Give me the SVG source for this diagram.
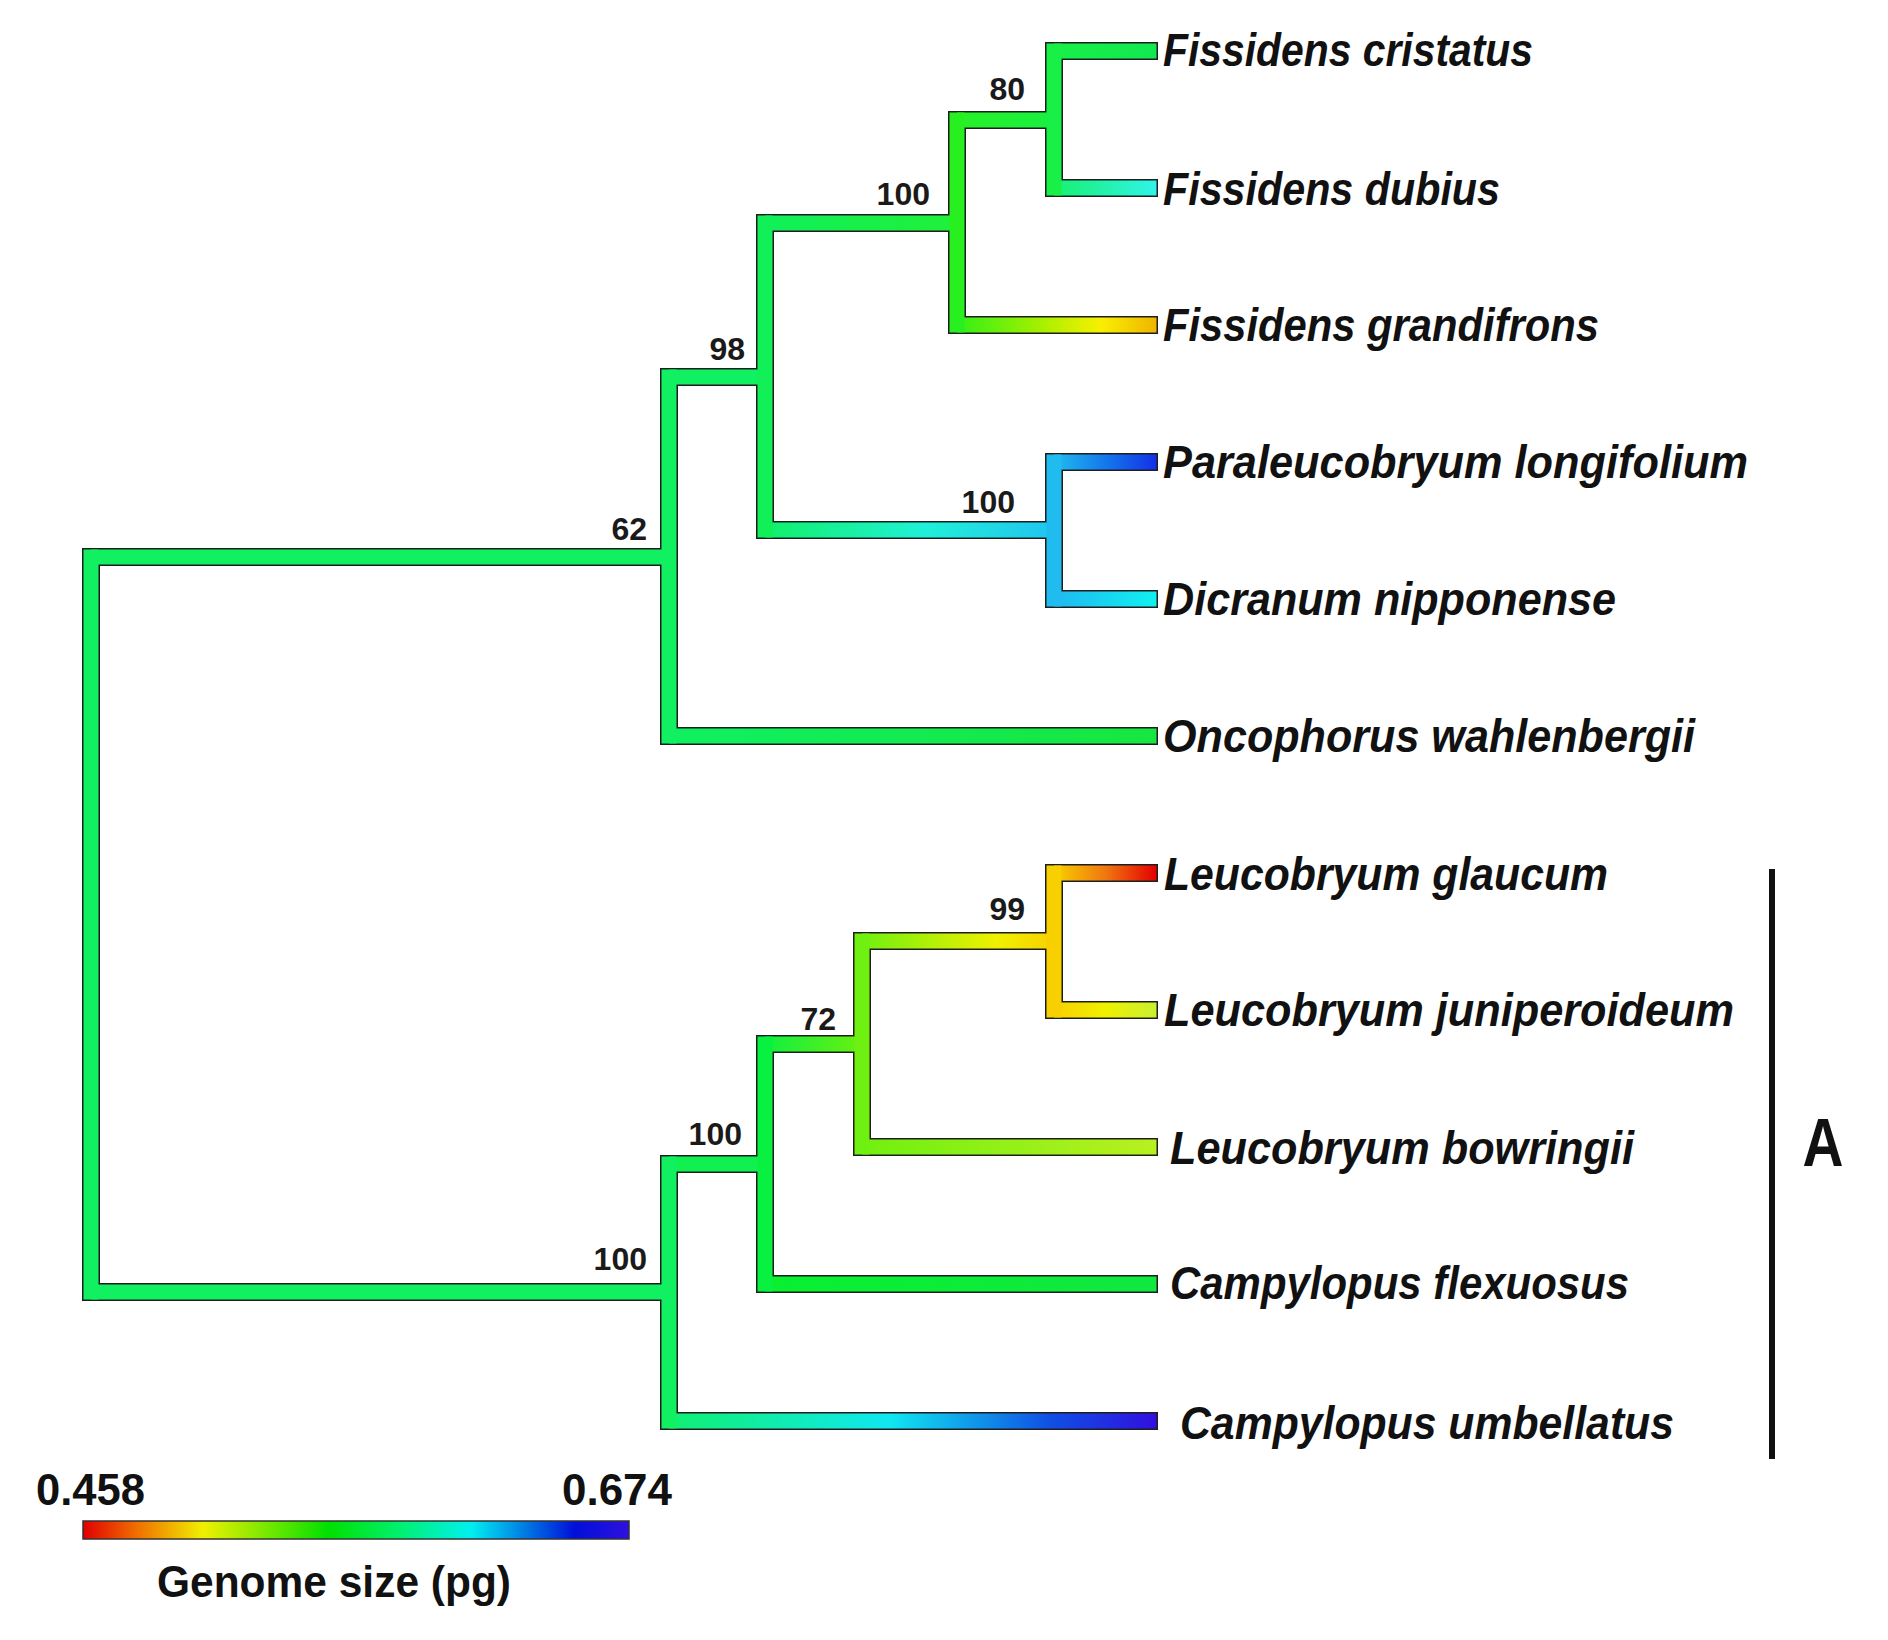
<svg xmlns="http://www.w3.org/2000/svg" width="1888" height="1640" viewBox="0 0 1888 1640">
<style>
.ol{fill:#1e1e1e}
.sp{font-family:"Liberation Sans",Arial,sans-serif;font-style:italic;font-weight:bold;font-size:46px;fill:#111}
.bs{font-family:"Liberation Sans",Arial,sans-serif;font-weight:bold;font-size:32px;fill:#1a1a1a;text-anchor:end}
.lg{font-family:"Liberation Sans",Arial,sans-serif;font-weight:bold;font-size:45px;fill:#111}
</style>
<defs>
<linearGradient id="gOnc"><stop offset="0" stop-color="#10f060"/><stop offset="1" stop-color="#16e640"/></linearGradient>
<linearGradient id="gA"><stop offset="0" stop-color="#10f05a"/><stop offset="1" stop-color="#20f038"/></linearGradient>
<linearGradient id="gB"><stop offset="0" stop-color="#28f028"/><stop offset="1" stop-color="#18f040"/></linearGradient>
<linearGradient id="gCri"><stop offset="0" stop-color="#18f048"/><stop offset="1" stop-color="#10e850"/></linearGradient>
<linearGradient id="gDub"><stop offset="0" stop-color="#18f070"/><stop offset="1" stop-color="#30f4e8"/></linearGradient>
<linearGradient id="gGra"><stop offset="0" stop-color="#30f018"/><stop offset="0.4" stop-color="#a0f000"/><stop offset="0.72" stop-color="#f8f000"/><stop offset="1" stop-color="#f0b400"/></linearGradient>
<linearGradient id="gC"><stop offset="0" stop-color="#10f068"/><stop offset="0.55" stop-color="#20f0d8"/><stop offset="1" stop-color="#20c4f0"/></linearGradient>
<linearGradient id="gPar"><stop offset="0" stop-color="#20bcf0"/><stop offset="0.5" stop-color="#1478ec"/><stop offset="1" stop-color="#1430e8"/></linearGradient>
<linearGradient id="gDic"><stop offset="0" stop-color="#20b8f0"/><stop offset="1" stop-color="#10f0f0"/></linearGradient>
<linearGradient id="gUmb"><stop offset="0" stop-color="#10f070"/><stop offset="0.45" stop-color="#10e8f0"/><stop offset="0.78" stop-color="#1050e4"/><stop offset="1" stop-color="#3010e0"/></linearGradient>
<linearGradient id="gFle"><stop offset="0" stop-color="#08f030"/><stop offset="1" stop-color="#10e840"/></linearGradient>
<linearGradient id="gD"><stop offset="0" stop-color="#10f040"/><stop offset="1" stop-color="#68f010"/></linearGradient>
<linearGradient id="gBow"><stop offset="0" stop-color="#70f010"/><stop offset="1" stop-color="#b8f020"/></linearGradient>
<linearGradient id="gE"><stop offset="0" stop-color="#70f010"/><stop offset="0.7" stop-color="#f0f000"/><stop offset="1" stop-color="#f8d000"/></linearGradient>
<linearGradient id="gGla"><stop offset="0" stop-color="#f8d000"/><stop offset="0.5" stop-color="#f07810"/><stop offset="1" stop-color="#e40000"/></linearGradient>
<linearGradient id="gJun"><stop offset="0" stop-color="#f8d000"/><stop offset="0.5" stop-color="#f0f000"/><stop offset="1" stop-color="#c8f030"/></linearGradient>
<linearGradient id="gLeg"><stop offset="0" stop-color="#e00000"/><stop offset="0.1" stop-color="#f07000"/><stop offset="0.22" stop-color="#f0f000"/><stop offset="0.45" stop-color="#00e000"/><stop offset="0.58" stop-color="#00f070"/><stop offset="0.71" stop-color="#00f0f0"/><stop offset="0.9" stop-color="#0010d8"/><stop offset="1" stop-color="#3010e0"/></linearGradient>
</defs>
<rect width="1888" height="1640" fill="#fff"/>
<g id="connectors">
<g id="outlines" class="ol">
<rect x="82" y="548" width="18" height="753"/>
<rect x="660" y="368" width="18" height="377"/>
<rect x="756" y="214" width="18" height="325"/>
<rect x="948" y="111" width="18" height="223"/>
<rect x="1045" y="42" width="18" height="155"/>
<rect x="1045" y="453" width="18" height="155"/>
<rect x="660" y="1155" width="18" height="275"/>
<rect x="756" y="1035" width="18" height="258"/>
<rect x="853" y="932" width="18" height="224"/>
<rect x="1045" y="864" width="18" height="155"/>
<rect x="82" y="548" width="596" height="18"/>
<rect x="82" y="1283" width="596" height="18"/>
<rect x="660" y="368" width="114" height="18"/>
<rect x="660" y="727" width="498" height="18"/>
<rect x="756" y="214" width="210" height="18"/>
<rect x="756" y="521" width="307" height="18"/>
<rect x="948" y="111" width="115" height="18"/>
<rect x="948" y="316" width="210" height="18"/>
<rect x="1045" y="42" width="113" height="18"/>
<rect x="1045" y="179" width="113" height="18"/>
<rect x="1045" y="453" width="113" height="18"/>
<rect x="1045" y="590" width="113" height="18"/>
<rect x="660" y="1155" width="114" height="18"/>
<rect x="660" y="1412" width="498" height="18"/>
<rect x="756" y="1035" width="115" height="18"/>
<rect x="756" y="1275" width="402" height="18"/>
<rect x="853" y="932" width="210" height="18"/>
<rect x="853" y="1138" width="305" height="18"/>
<rect x="1045" y="864" width="113" height="18"/>
<rect x="1045" y="1001" width="113" height="18"/>
</g>
<g id="fills">
<rect x="91" y="549.5" width="578" height="15" fill="#10f060"/>
<rect x="91" y="1284.5" width="578" height="15" fill="#10f060"/>
<rect x="669" y="369.5" width="96" height="15" fill="#10f060"/>
<rect x="669" y="728.5" width="487.5" height="15" fill="url(#gOnc)"/>
<rect x="765" y="215.5" width="192" height="15" fill="url(#gA)"/>
<rect x="765" y="522.5" width="289" height="15" fill="url(#gC)"/>
<rect x="957" y="112.5" width="97" height="15" fill="url(#gB)"/>
<rect x="957" y="317.5" width="199.5" height="15" fill="url(#gGra)"/>
<rect x="1054" y="43.5" width="102.5" height="15" fill="url(#gCri)"/>
<rect x="1054" y="180.5" width="102.5" height="15" fill="url(#gDub)"/>
<rect x="1054" y="454.5" width="102.5" height="15" fill="url(#gPar)"/>
<rect x="1054" y="591.5" width="102.5" height="15" fill="url(#gDic)"/>
<rect x="669" y="1156.5" width="96" height="15" fill="#10f050"/>
<rect x="669" y="1413.5" width="487.5" height="15" fill="url(#gUmb)"/>
<rect x="765" y="1036.5" width="97" height="15" fill="url(#gD)"/>
<rect x="765" y="1276.5" width="391.5" height="15" fill="url(#gFle)"/>
<rect x="862" y="933.5" width="192" height="15" fill="url(#gE)"/>
<rect x="862" y="1139.5" width="294.5" height="15" fill="url(#gBow)"/>
<rect x="1054" y="865.5" width="102.5" height="15" fill="url(#gGla)"/>
<rect x="1054" y="1002.5" width="102.5" height="15" fill="url(#gJun)"/>
<rect x="83.5" y="549.5" width="15" height="750" fill="#10f060"/>
<rect x="661.5" y="369.5" width="15" height="374" fill="#10f060"/>
<rect x="757.5" y="215.5" width="15" height="322" fill="#12f058"/>
<rect x="949.5" y="112.5" width="15" height="220" fill="#28f020"/>
<rect x="1046.5" y="43.5" width="15" height="152" fill="#18f048"/>
<rect x="1046.5" y="454.5" width="15" height="152" fill="#20bcf0"/>
<rect x="661.5" y="1156.5" width="15" height="272" fill="#10f060"/>
<rect x="757.5" y="1036.5" width="15" height="255" fill="#08f040"/>
<rect x="854.5" y="933.5" width="15" height="221" fill="#70f010"/>
<rect x="1046.5" y="865.5" width="15" height="152" fill="#f8d000"/>
</g>
</g>
<g id="node-80"><text class="bs" x="1025" y="100">80</text></g>
<g id="node-100a"><text class="bs" x="930" y="205">100</text></g>
<g id="node-98"><text class="bs" x="745" y="360">98</text></g>
<g id="node-62"><text class="bs" x="647" y="540">62</text></g>
<g id="node-100b"><text class="bs" x="1015" y="513">100</text></g>
<g id="node-99"><text class="bs" x="1025" y="920">99</text></g>
<g id="node-72"><text class="bs" x="836" y="1030">72</text></g>
<g id="node-100c"><text class="bs" x="742" y="1145">100</text></g>
<g id="node-100L"><text class="bs" x="647" y="1270">100</text></g>
<g id="leaf-fissidens-cristatus"><text class="sp" x="1163" y="66" textLength="370" lengthAdjust="spacingAndGlyphs">Fissidens cristatus</text></g>
<g id="leaf-fissidens-dubius"><text class="sp" x="1163" y="205" textLength="337" lengthAdjust="spacingAndGlyphs">Fissidens dubius</text></g>
<g id="leaf-fissidens-grandifrons"><text class="sp" x="1163" y="341" textLength="436" lengthAdjust="spacingAndGlyphs">Fissidens grandifrons</text></g>
<g id="leaf-paraleucobryum-longifolium"><text class="sp" x="1163" y="478" textLength="585" lengthAdjust="spacingAndGlyphs">Paraleucobryum longifolium</text></g>
<g id="leaf-dicranum-nipponense"><text class="sp" x="1163" y="615" textLength="453" lengthAdjust="spacingAndGlyphs">Dicranum nipponense</text></g>
<g id="leaf-oncophorus-wahlenbergii"><text class="sp" x="1163" y="752" textLength="532" lengthAdjust="spacingAndGlyphs">Oncophorus wahlenbergii</text></g>
<g id="leaf-leucobryum-glaucum"><text class="sp" x="1164" y="890" textLength="444" lengthAdjust="spacingAndGlyphs">Leucobryum glaucum</text></g>
<g id="leaf-leucobryum-juniperoideum"><text class="sp" x="1164" y="1026" textLength="570" lengthAdjust="spacingAndGlyphs">Leucobryum juniperoideum</text></g>
<g id="leaf-leucobryum-bowringii"><text class="sp" x="1170" y="1164" textLength="464" lengthAdjust="spacingAndGlyphs">Leucobryum bowringii</text></g>
<g id="leaf-campylopus-flexuosus"><text class="sp" x="1170" y="1299" textLength="459" lengthAdjust="spacingAndGlyphs">Campylopus flexuosus</text></g>
<g id="leaf-campylopus-umbellatus"><text class="sp" x="1180" y="1439" textLength="494" lengthAdjust="spacingAndGlyphs">Campylopus umbellatus</text></g>
<g id="clade-A">
<line x1="1772" y1="869" x2="1772" y2="1459" stroke="#111" stroke-width="6"/>
<text x="1823" y="1166" font-family="Liberation Sans, Arial, sans-serif" font-weight="bold" font-size="68" fill="#111" text-anchor="middle" textLength="41" lengthAdjust="spacingAndGlyphs">A</text>
</g>
<g id="legend">
<rect x="83" y="1521" width="546" height="18" fill="url(#gLeg)" stroke="#333" stroke-width="1.5"/>
<text class="lg" x="36" y="1505" textLength="109" lengthAdjust="spacingAndGlyphs">0.458</text>
<text class="lg" x="562" y="1505" textLength="110" lengthAdjust="spacingAndGlyphs">0.674</text>
<text class="lg" x="157" y="1597" textLength="354" lengthAdjust="spacingAndGlyphs">Genome size (pg)</text>
</g>
</svg>
